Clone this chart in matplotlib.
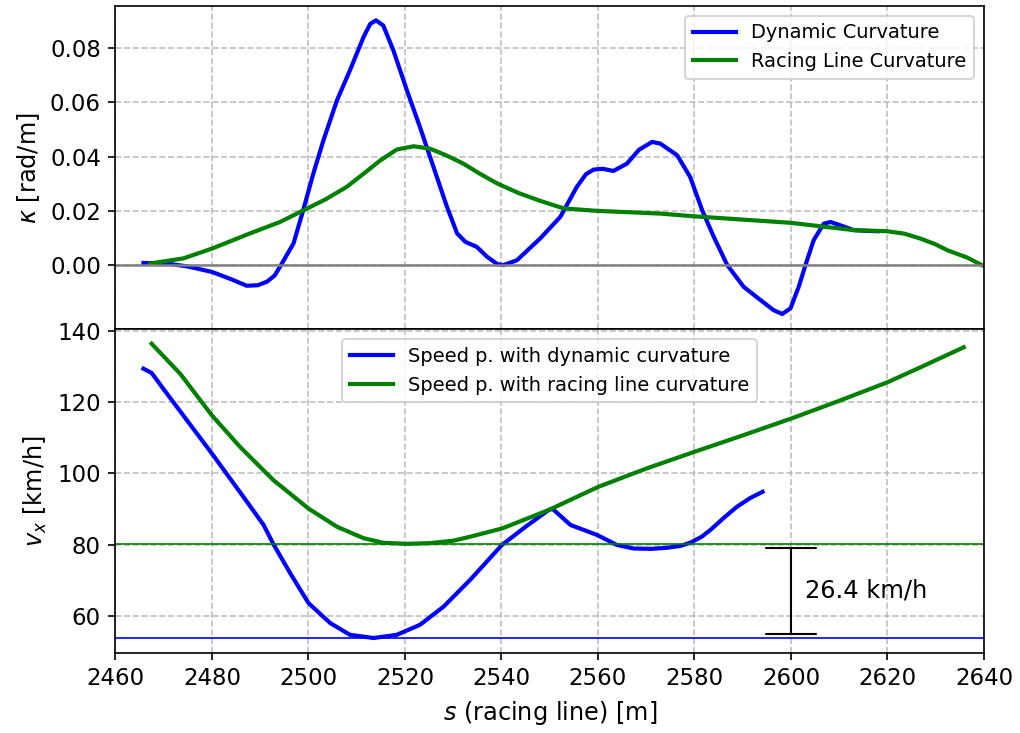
import numpy as np
import matplotlib
matplotlib.use("Agg")
import matplotlib.pyplot as plt

# curvature along the racing line [rad/m]
s_kappa_dyn = [2465.8, 2470.6, 2475.0, 2480.0, 2484.0, 2487.2, 2489.5, 2491.4, 2493.0,
               2494.1, 2496.9, 2498.9, 2501.0, 2503.1, 2505.9, 2508.6, 2511.4, 2512.8,
               2514.0, 2515.5, 2517.6, 2520.4, 2523.1, 2525.9, 2528.7, 2530.8, 2532.5,
               2534.9, 2537.0, 2539.1, 2540.4, 2543.2, 2548.0, 2552.2, 2555.6, 2557.5,
               2559.1, 2561.0, 2563.2, 2566.0, 2568.5, 2571.2, 2572.9, 2576.4, 2579.1,
               2581.6, 2584.0, 2586.8, 2590.2, 2593.7, 2596.4, 2598.2, 2599.9, 2601.6,
               2603.0, 2604.7, 2606.8, 2608.2, 2610.2, 2613.0, 2615.8, 2618.0]
kappa_dyn = [0.0008, 0.0006, -0.0005, -0.0025, -0.0052, -0.0076, -0.0074, -0.0061, -0.0038,
             -0.0006, 0.0080, 0.0202, 0.0337, 0.0460, 0.0607, 0.0718, 0.0840, 0.0889,
             0.0902, 0.0883, 0.0791, 0.0644, 0.0509, 0.0362, 0.0215, 0.0117, 0.0086,
             0.0067, 0.0031, 0.0004, 0.0000, 0.0018, 0.0098, 0.0178, 0.0288, 0.0335,
             0.0352, 0.0355, 0.0347, 0.0374, 0.0425, 0.0454, 0.0448, 0.0405, 0.0325,
             0.0202, 0.0104, 0.0000, -0.0080, -0.0129, -0.0166, -0.0180, -0.0159, -0.0080,
             0.0000, 0.0092, 0.0153, 0.0159, 0.0147, 0.0129, 0.0126, 0.0125]

s_kappa_rl = [2467.2, 2474.1, 2480.0, 2487.9, 2494.1, 2499.3, 2503.5, 2507.9, 2511.5,
              2514.9, 2518.3, 2521.8, 2525.2, 2528.5, 2532.1, 2535.5, 2539.1, 2543.5,
              2548.0, 2552.9, 2559.8, 2572.9, 2579.8, 2599.9, 2613.0, 2619.9, 2623.5,
              2626.8, 2629.8, 2632.4, 2636.5, 2640.0]
kappa_rl = [0.0006, 0.0025, 0.0061, 0.0117, 0.0159, 0.0205, 0.0242, 0.0288, 0.0338,
            0.0386, 0.0426, 0.0438, 0.0429, 0.0405, 0.0374, 0.0337, 0.0301, 0.0266,
            0.0237, 0.0209, 0.0200, 0.0190, 0.0180, 0.0156, 0.0129, 0.0125, 0.0116,
            0.0098, 0.0078, 0.0055, 0.0028, -0.0004]

# speed profiles [km/h]
s_v_dyn = [2465.8, 2467.5, 2469.9, 2475.0, 2480.0, 2486.5, 2490.7, 2492.7, 2496.2,
           2500.0, 2504.5, 2508.6, 2513.5, 2518.3, 2523.1, 2528.0, 2533.5, 2540.1,
           2545.0, 2549.8, 2550.6, 2554.3, 2559.8, 2563.9, 2567.4, 2571.0, 2574.3,
           2577.0, 2579.1, 2581.5, 2583.3, 2586.0, 2588.8, 2591.5, 2594.1]
v_dyn = [129.3, 128.1, 123.7, 114.5, 105.5, 93.4, 85.5, 80.2, 72.0,
         63.6, 58.0, 54.7, 53.8, 54.7, 57.5, 62.6, 70.1, 79.9,
         85.0, 89.7, 90.0, 85.5, 82.7, 79.9, 78.9, 78.8, 79.1,
         79.6, 80.5, 82.2, 84.1, 87.4, 90.6, 93.0, 94.8]

s_v_rl = [2467.5, 2473.4, 2480.0, 2485.8, 2492.7, 2500.0, 2505.9, 2511.4, 2515.5,
          2520.4, 2525.2, 2530.1, 2533.5, 2540.1, 2549.8, 2560.1, 2570.0, 2580.0,
          2590.0, 2600.0, 2610.0, 2620.0, 2626.2, 2631.0, 2635.8]
v_rl = [136.3, 127.9, 116.2, 107.4, 98.1, 90.1, 85.0, 81.8, 80.5,
        80.2, 80.4, 81.1, 82.2, 84.5, 89.7, 96.2, 101.3, 106.0,
        110.6, 115.3, 120.3, 125.5, 129.3, 132.3, 135.3]

fig = plt.figure(figsize=(6.8, 4.887), dpi=150)
ax1 = fig.add_axes([0.1132, 0.5505, 0.8515, 0.4413])
ax2 = fig.add_axes([0.1132, 0.1096, 0.8515, 0.4409], sharex=ax1)

ax1.plot(s_kappa_dyn, kappa_dyn, color="blue", lw=2, label="Dynamic Curvature")
ax1.plot(s_kappa_rl, kappa_rl, color="green", lw=2, label="Racing Line Curvature")
ax1.axhline(0, color="gray", lw=1.2)
ax1.set_ylim(-0.0237, 0.0955)
ax1.set_yticks([0.0, 0.02, 0.04, 0.06, 0.08])
ax1.set_ylabel(r"$\kappa$ [rad/m]", fontsize=11.5)
ax1.grid(True, linestyle="--", alpha=0.8)
ax1.tick_params(labelsize=11)
ax1.tick_params(axis="x", labelbottom=False, length=0)
ax1.legend(loc="upper right", fontsize=9.3, handlelength=2.2)

v_min_dyn = min(v_dyn)
v_min_rl = min(v_rl)
ax2.plot(s_v_dyn, v_dyn, color="blue", lw=2, label="Speed p. with dynamic curvature")
ax2.plot(s_v_rl, v_rl, color="green", lw=2, label="Speed p. with racing line curvature")
ax2.axhline(v_min_dyn, color="blue", lw=0.8)
ax2.axhline(v_min_rl, color="green", lw=0.8)
ax2.annotate("", xy=(2600, v_min_dyn), xytext=(2600, v_min_rl),
             arrowprops=dict(arrowstyle="|-|,widthA=1.0,widthB=1.0",
                             mutation_scale=12, lw=1.0, color="black"))
ax2.text(2603, (v_min_dyn + v_min_rl) / 2, f"{v_min_rl - v_min_dyn:.1f} km/h",
         fontsize=11.6, va="center")
ax2.set_xlim(2460, 2640)
ax2.set_ylim(49.7, 140.3)
ax2.set_yticks([60, 80, 100, 120, 140])
ax2.set_ylabel(r"$v_x$ [km/h]", fontsize=11.5)
ax2.set_xlabel(r"$s$ (racing line) [m]", fontsize=11.5)
ax2.grid(True, linestyle="--", alpha=0.8)
ax2.tick_params(labelsize=11)
ax2.legend(loc="upper center", fontsize=9.3, handlelength=2.2)

fig.savefig("out.png", dpi=150)
